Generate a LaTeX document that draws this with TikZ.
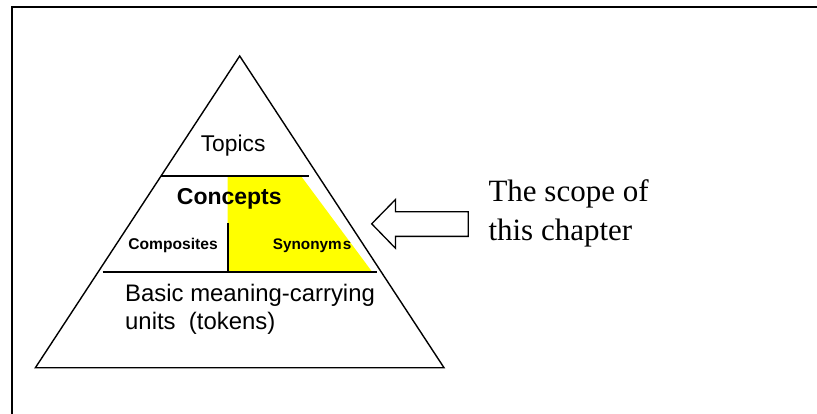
\documentclass[tikz,border=0pt]{standalone}
\usepackage{fontspec}
\newfontfamily\arialf{Liberation Sans}
\newfontfamily\timesf{Liberation Serif}
\definecolor{hl}{RGB}{255,255,0}
\begin{document}
\begin{tikzpicture}[x=1pt,y=-1pt,
  edge/.style={line width=1.4pt,line join=miter},
  divline/.style={line width=2pt},
  lbl/.style={inner sep=0pt,anchor=base west}]
\useasboundingbox (0,0) rectangle (817,414);
% frame (only top and left visible)
\draw[line width=2pt] (11.7,414) -- (11.7,7.3) -- (817,7.3);
% yellow synonyms region
\fill[hl] (227.7,176.7) -- (301.5,176.7) -- (371.5,271) -- (227.7,271) -- cycle;
% pyramid
\coordinate (apex) at (239.7,56);
\coordinate (bl) at (35.4,367.7);
\coordinate (br) at (444,367.7);
\draw[edge] (apex) -- (bl) -- (br) -- cycle;
\coordinate (t1) at (160.5,176);
\coordinate (t2) at (308.5,176);
\draw[divline] (t1) -- (t2);
\coordinate (c1) at (102.5,271.7);
\coordinate (c2) at (376.8,271.7);
\draw[divline] (c1) -- (c2);
\coordinate (v1) at (227.7,223);
\coordinate (v2) at (227.7,271.7);
\draw[divline] (v1) -- (v2);
% hollow arrow
\draw[line width=1.3pt,line join=miter]
  (371.7,223.8) -- (395.5,199.5) -- (395.5,211.7) -- (468.3,211.7)
  -- (468.3,236.4) -- (395.5,236.4) -- (395.5,248.3) -- cycle;
% labels
\node[lbl,font=\arialf\fontsize{22.8}{26}\selectfont] (topics) at (200.6,151.7) {Topics};
\node[lbl,font=\arialf\bfseries\fontsize{23}{26}\selectfont] (concepts) at (176.7,205) {Concepts};
\node[lbl,font=\arialf\bfseries\fontsize{15.6}{18}\selectfont] (comp) at (128.2,250) {Composites};
\node[lbl,font=\arialf\bfseries\fontsize{15.3}{18}\selectfont] (syn) at (272.7,250) {Synonym\kern1.2pt s};
\node[lbl,font=\arialf\fontsize{23.9}{27.7}\selectfont] (basic1) at (125,301.7) {Basic meaning-carrying};
\node[lbl,font=\arialf\fontsize{23.9}{27.7}\selectfont] (basic2) at (125,329.4) {units\ \ (tokens)};
\node[lbl,font=\timesf\fontsize{31}{39}\selectfont] (scope1) at (488.3,202) {The scope of};
\node[lbl,font=\timesf\fontsize{31}{39}\selectfont] (scope2) at (488.3,241) {this chapter};
\end{tikzpicture}
\end{document}
